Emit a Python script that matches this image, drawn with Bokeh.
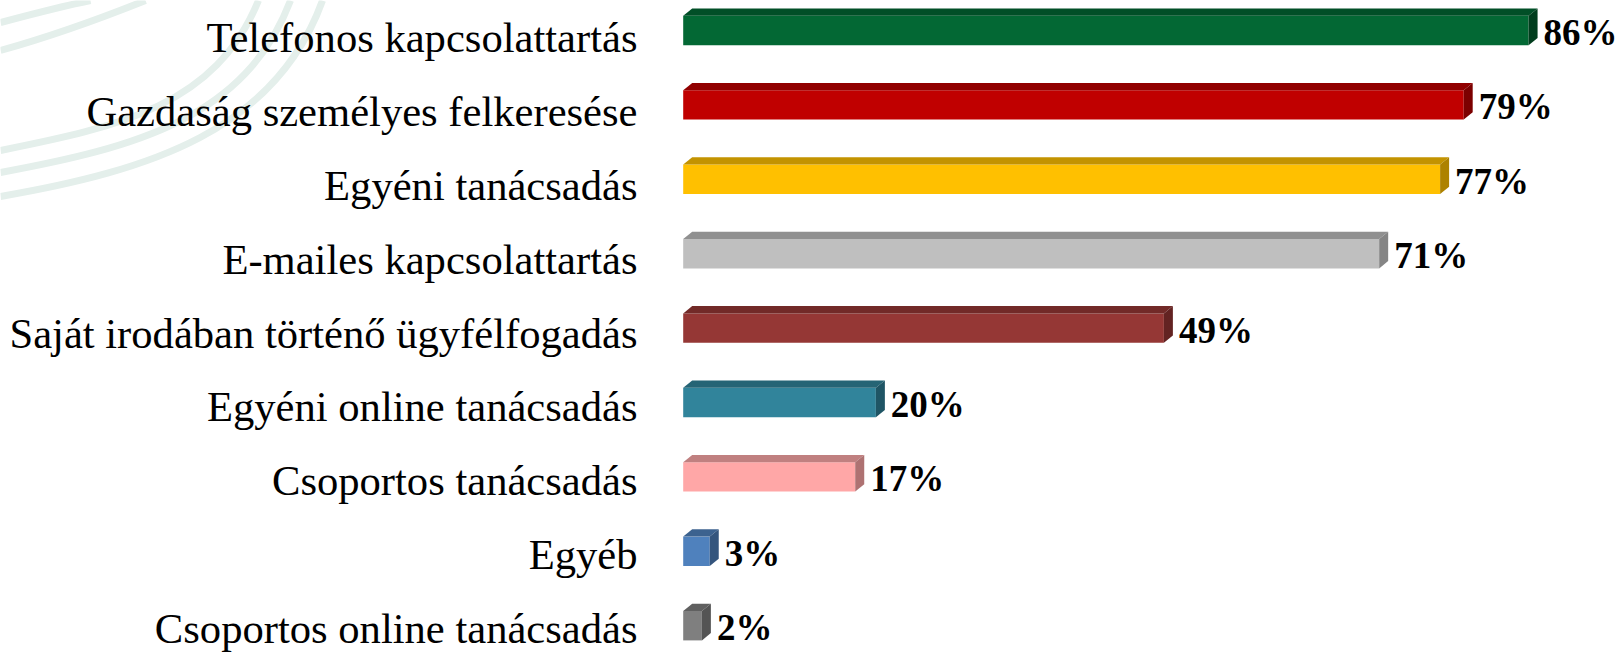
from bokeh.plotting import figure
from bokeh.models import ColumnDataSource, Range1d
from bokeh.core.properties import value
from bokeh.embed import file_html
from bokeh.resources import INLINE

# ---- data ----
categories = [
    "Telefonos kapcsolattartás",
    "Gazdaság személyes felkeresése",
    "Egyéni tanácsadás",
    "E-mailes kapcsolattartás",
    "Saját irodában történő ügyfélfogadás",
    "Egyéni online tanácsadás",
    "Csoportos tanácsadás",
    "Egyéb",
    "Csoportos online tanácsadás",
]
values = [86.0, 79.4, 77.0, 70.8, 48.9, 19.6, 17.5, 2.7, 1.9]
value_labels = ["86%", "79%", "77%", "71%", "49%", "20%", "17%", "3%", "2%"]
front_colors = ["#036834", "#c00000", "#ffc000", "#bfbfbf", "#953735",
                "#31849b", "#ffa7a7", "#4f81bd", "#7f7f7f"]
top_colors = ["#014f27", "#910000", "#c39300", "#909090", "#722a28",
              "#256475", "#c08080", "#3c628f", "#606060"]
side_colors = ["#013d1d", "#7c0000", "#ad8200", "#858585", "#632322",
               "#1f5565", "#ae7272", "#34557d", "#545454"]

# ---- geometry (pixel scale of the chart) ----
W, H = 1619, 653
PX_PER_UNIT_X = 9.83      # pixels per percent
PX_PER_CAT = 74.4         # pixels per category
X0 = 682.7                # canvas x of value 0
Y0 = 30.0                 # canvas y of first category centre

x_start = -X0 / PX_PER_UNIT_X
x_end = (W - X0) / PX_PER_UNIT_X
y_bottom = (H - Y0) / PX_PER_CAT
y_top = -Y0 / PX_PER_CAT

def px2x(px):
    return (px - X0) / PX_PER_UNIT_X

def py2y(py):
    return (py - Y0) / PX_PER_CAT

p = figure(width=W, height=H, output_backend="svg", toolbar_location=None,
           x_range=Range1d(x_start, x_end), y_range=Range1d(y_bottom, y_top),
           min_border=0)
p.axis.visible = False
p.xgrid.visible = False
p.ygrid.visible = False
p.outline_line_color = None
p.background_fill_color = "white"
p.border_fill_color = "white"

# ---- decorative background curves ----
deco = [
    ((0, 22), (30, 14), (60, 6), (90, 0)),
    ((0, 50), (50, 36), (100, 18), (145, 0)),
    ((0, 150), (120, 126), (215, 105), (258, 0)),
    ((0, 172), (135, 147), (245, 118), (290, 0)),
    ((0, 196), (150, 170), (275, 130), (322, 0)),
]
p.bezier(x0=[px2x(d[0][0]) for d in deco], y0=[py2y(d[0][1]) for d in deco],
         cx0=[px2x(d[1][0]) for d in deco], cy0=[py2y(d[1][1]) for d in deco],
         cx1=[px2x(d[2][0]) for d in deco], cy1=[py2y(d[2][1]) for d in deco],
         x1=[px2x(d[3][0]) for d in deco], y1=[py2y(d[3][1]) for d in deco],
         line_color="#e4efeb", line_width=7)

# ---- 3D bars ----
half_h = 14.7 / PX_PER_CAT
dx = 9.0 / PX_PER_UNIT_X
dy = 7.3 / PX_PER_CAT

idx = list(range(len(categories)))
fronts = ColumnDataSource(dict(
    left=[0.0] * len(values), right=values,
    top=[i - half_h for i in idx], bottom=[i + half_h for i in idx],
    color=front_colors))
p.quad(left="left", right="right", top="top", bottom="bottom",
       fill_color="color", line_color=None, source=fronts)

top_xs, top_ys, side_xs, side_ys = [], [], [], []
for i, v in zip(idx, values):
    ft, fb = i - half_h, i + half_h
    top_xs.append([0, dx, v + dx, v])
    top_ys.append([ft, ft - dy, ft - dy, ft])
    side_xs.append([v, v + dx, v + dx, v])
    side_ys.append([ft, ft - dy, fb - dy, fb])
p.patches(xs=top_xs, ys=top_ys, fill_color=top_colors, line_color=None)
p.patches(xs=side_xs, ys=side_ys, fill_color=side_colors, line_color=None)

# ---- category labels ----
cat_src = ColumnDataSource(dict(
    x=[px2x(637)] * len(categories),
    y=[py2y(51.6 + 73.8 * i - 14.2) for i in idx],
    text=categories))
p.text(x="x", y="y", text="text", source=cat_src,
       text_font=value("Liberation Serif"), text_font_size="42.6px",
       text_align="right", text_baseline="alphabetic", text_color="black")

# ---- value labels ----
val_src = ColumnDataSource(dict(
    x=[v + dx + 6.0 / PX_PER_UNIT_X for v in values],
    y=[i + (13.8 - 11.8) / PX_PER_CAT for i in idx],
    text=value_labels))
p.text(x="x", y="y", text="text", source=val_src,
       text_font=value("Liberation Serif"), text_font_size="37px",
       text_font_style="bold", text_align="left", text_baseline="alphabetic",
       text_color="black")

open("out.html", "w").write(file_html(p, INLINE))
